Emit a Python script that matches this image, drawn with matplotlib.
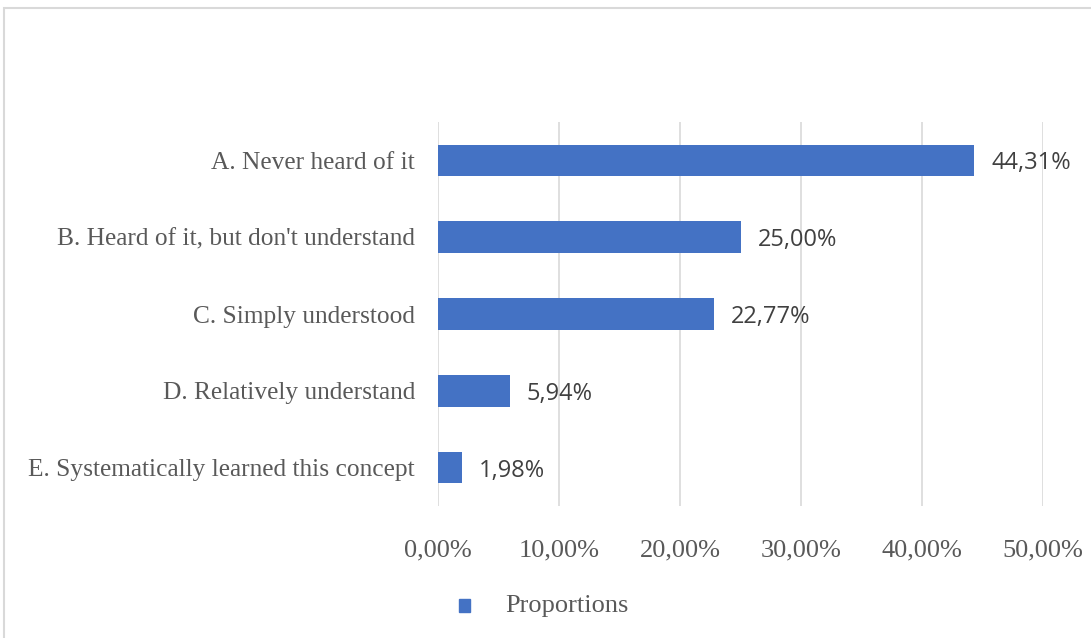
import matplotlib
matplotlib.use("Agg")
import matplotlib.pyplot as plt
from matplotlib.patches import Rectangle
from matplotlib.ticker import FuncFormatter

categories = [
    "A. Never heard of it",
    "B. Heard of it, but don't understand",
    "C. Simply understood",
    "D. Relatively understand",
    "E. Systematically learned this concept",
]
proportions = [44.31, 25.00, 22.77, 5.94, 1.98]
x_ticks = [0, 10, 20, 30, 40, 50]
series_name = "Proportions"

BAR_COLOR = "#4472C4"
SERIF = ["Liberation Serif", "DejaVu Serif"]
SANS = ["Open Sans", "DejaVu Sans"]

fig = plt.figure(figsize=(10.91, 6.38), dpi=100)
ax = fig.add_axes([438 / 1091, 1 - 506 / 638, (1043 - 438) / 1091, (506 - 122) / 638])

ypos = list(range(len(categories)))
ax.barh(ypos, proportions, height=0.41, color=BAR_COLOR, zorder=3)
ax.set_ylim(len(categories) - 0.5, -0.5)
ax.set_xlim(0, 50)

ax.set_yticks(ypos)
ax.set_yticklabels(categories, family=SERIF, fontsize=18.3, color="#595959")
ax.set_xticks(x_ticks)
ax.xaxis.set_major_formatter(FuncFormatter(lambda v, p: ("%.2f%%" % v).replace(".", ",")))
for lbl in ax.get_xticklabels():
    lbl.set_family(SERIF)
    lbl.set_fontsize(19)
    lbl.set_color("#595959")
ax.tick_params(axis="both", length=0)
ax.tick_params(axis="y", pad=16.5)
ax.tick_params(axis="x", pad=24)

ax.grid(axis="x", color="#D9D9D9", linewidth=1.2, zorder=0)
for s in ax.spines.values():
    s.set_visible(False)

for y, v in zip(ypos, proportions):
    ax.text(v + 1.4, y + 0.04, ("%.2f%%" % v).replace(".", ","), va="center", ha="left",
            family=SANS, fontsize=17, color="#404040")

# legend
fig.patches.append(Rectangle((459 / 1091, 1 - 612 / 638), 11 / 1091, 13 / 638,
                             transform=fig.transFigure, color=BAR_COLOR))
fig.text(505 / 1091, 1 - 606 / 638, series_name, family=SERIF, fontsize=19,
         color="#595959", va="center", ha="left")

# chart frame
fig.patches.append(Rectangle((3.5 / 1091, -0.1), 1.2, 1 - 8.5 / 638 + 0.1,
                             transform=fig.transFigure, fill=False,
                             edgecolor="#D9D9D9", linewidth=1.5))

fig.savefig("out.png", dpi=100, facecolor="white")
